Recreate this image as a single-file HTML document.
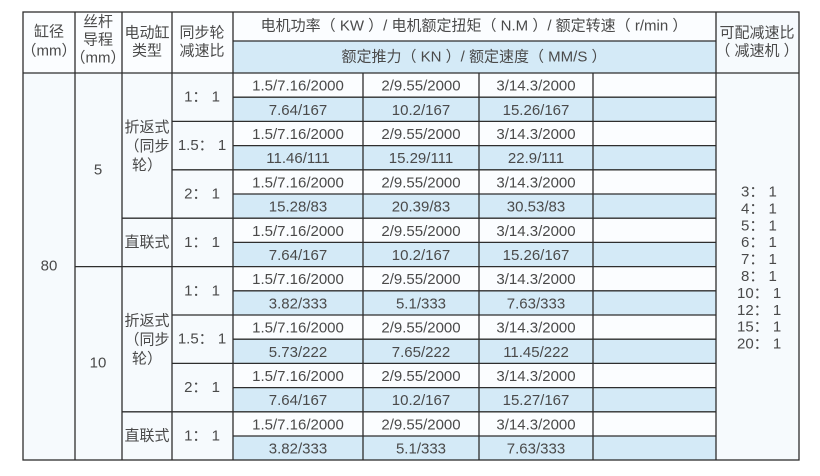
<!DOCTYPE html>
<html><head><meta charset="utf-8"><style>
body{margin:0;background:#fff}
svg text{font-family:"Liberation Sans","Noto Sans CJK SC",sans-serif;fill:#4a4a4a;font-size:15px;dominant-baseline:central;text-anchor:middle}
</style></head><body>
<svg width="820" height="471" xmlns="http://www.w3.org/2000/svg">
<rect x="23" y="12" width="776" height="448" fill="#f6fafd"/>
<rect x="23" y="12" width="693" height="61" fill="#fbfdff"/>
<rect x="233" y="41" width="483" height="32" fill="#d4eaf7"/>
<g id="rows"></g>
<script>
var g=document.getElementById('rows'),NS='http://www.w3.org/2000/svg';
function el(t,a,txt){var e=document.createElementNS(NS,t);for(var k in a)e.setAttribute(k,a[k]);if(txt!=null)e.textContent=txt;g.appendChild(e);return e;}
var H=24.2,Y0=73;
var data=[
["1.5/7.16/2000","2/9.55/2000","3/14.3/2000"],["7.64/167","10.2/167","15.26/167"],
["1.5/7.16/2000","2/9.55/2000","3/14.3/2000"],["11.46/111","15.29/111","22.9/111"],
["1.5/7.16/2000","2/9.55/2000","3/14.3/2000"],["15.28/83","20.39/83","30.53/83"],
["1.5/7.16/2000","2/9.55/2000","3/14.3/2000"],["7.64/167","10.2/167","15.26/167"],
["1.5/7.16/2000","2/9.55/2000","3/14.3/2000"],["3.82/333","5.1/333","7.63/333"],
["1.5/7.16/2000","2/9.55/2000","3/14.3/2000"],["5.73/222","7.65/222","11.45/222"],
["1.5/7.16/2000","2/9.55/2000","3/14.3/2000"],["7.64/167","10.2/167","15.27/167"],
["1.5/7.16/2000","2/9.55/2000","3/14.3/2000"],["3.82/333","5.1/333","7.63/333"]];
var cx=[298,421,536];
for(var i=0;i<16;i++){var y=Y0+i*H;
el('rect',{x:233,y:y,width:483,height:H,fill:i%2?'#d4eaf7':'#fbfdff'});
for(var j=0;j<3;j++)el('text',{x:cx[j],y:y+H/2+1},data[i][j]);}
var st='#2e2e2e';
function L(x1,y1,x2,y2){el('line',{x1:x1,y1:y1,x2:x2,y2:y2,stroke:st,'stroke-width':1.3});}
for(var i=1;i<16;i++){var y=Y0+i*H;var x=233;if(i%2==0)x=172;if(i==6||i==14)x=122;if(i==8)x=75;L(x,y,716,y);}
L(233,41,716,41);L(23,73,799,73);
[75,122,172,233,716].forEach(function(x){L(x,12,x,460)});
[363,479,593].forEach(function(x){L(x,73,x,460)});
el('rect',{x:23,y:12,width:776,height:448,fill:'none',stroke:st,'stroke-width':1.3});
function T(x,y,s){el('text',{x:x,y:y},s);}
T(49,32,'缸径');T(49,51,'（mm）');
T(98,22,'丝杆');T(98,40,'导程');T(98,58,'（mm）');
T(147,33,'电动缸');T(147,51,'类型');
T(202,33,'同步轮');T(202,51,'减速比');
T(474,26,'电机功率（ KW ）/ 电机额定扭矩（ N.M ）/ 额定转速（ r/min ）');
T(474,57,'额定推力（ KN ）/ 额定速度（ MM/S ）');
T(757,33,'可配减速比');T(757,51,'（ 减速机 ）');
T(49,266,'80');T(98,170,'5');T(98,363,'10');
[0,8].forEach(function(b){var y=Y0+(b+3)*H;T(147,y-18,'折返式');T(147,y+1,'（同步');T(147,y+20,'轮）');
T(202,Y0+(b+1)*H,'1： 1');T(202,Y0+(b+3)*H,'1.5： 1');T(202,Y0+(b+5)*H,'2： 1');
T(147,Y0+(b+7)*H,'直联式');T(202,Y0+(b+7)*H,'1： 1');});
['3','4','5','6','7','8','10','12','15','20'].forEach(function(s,k){el('text',{x:s.length>1?737:741,y:192+k*16.9,style:'text-anchor:start'},s+'： 1');});
</script>
</svg>
</body></html>
